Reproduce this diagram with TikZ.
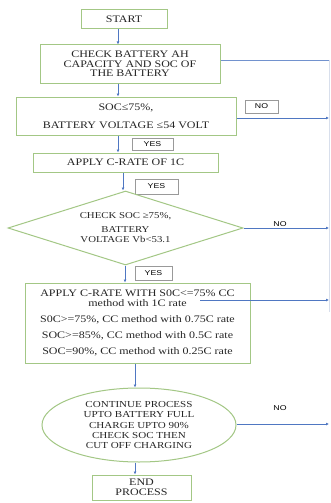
\documentclass[tikz,border=0pt]{standalone}
\usepackage{fontspec}
\setmainfont{Liberation Serif}[FakeStretch=1.2]
\newfontfamily\labfont{Liberation Sans}[FakeStretch=1.25]
\usetikzlibrary{shapes.geometric,arrows.meta}
\definecolor{boxgreen}{HTML}{A3C785}
\definecolor{arrblue}{HTML}{4F77C2}
\definecolor{faint}{HTML}{D8DFEC}
\tikzset{
  gbox/.style={draw=boxgreen,line width=1pt,rectangle,inner sep=0pt,align=center,text=black!85,font=\fontsize{10}{9.6}\selectfont},
  lbox/.style={draw=gray!80,line width=0.7pt,rectangle,inner sep=0pt,font=\labfont\fontsize{7}{7}\selectfont},
  ltext/.style={inner sep=0pt,font=\labfont\fontsize{7}{7}\selectfont},
  arr/.style={draw=arrblue,line width=0.8pt,-{Latex[length=3pt,width=3pt]}},
  ln/.style={draw=arrblue!80,line width=0.8pt},
}
\begin{document}
\begin{tikzpicture}[x=1pt,y=-1pt]
\useasboundingbox[fill=white] (0,0) rectangle (330,503);
% x positions of vertical connectors
\coordinate (c1) at (118,0);
\coordinate (c2) at (123,0);
\coordinate (c3) at (125,0);
\coordinate (c4) at (135,0);

\node[gbox,minimum width=86pt,minimum height=19pt] (start) at (124,19.5) {START};
\node[gbox,minimum width=180pt,minimum height=38pt] (chk) at (130,64)
  {CHECK BATTERY AH\\CAPACITY AND SOC OF\\THE BATTERY};
\node[gbox,minimum width=220pt,minimum height=38pt] (soc) at (126,116)
  {SOC≤75\%,\\[8pt]BATTERY VOLTAGE ≤54 VOLT};
\node[lbox,minimum width=33pt,minimum height=13pt] (no1) at (261.5,106.5) {NO};
\node[lbox,minimum width=41pt,minimum height=12pt] (yes1) at (152.5,144) {YES};
\node[gbox,minimum width=185pt,minimum height=19pt] (ap1) at (125.5,162.5) {APPLY C-RATE OF 1C};
\node[lbox,minimum width=43pt,minimum height=15pt] (yes2) at (156.5,186.5) {YES};
\node[draw=boxgreen,line width=1pt,diamond,aspect=3.2,inner sep=0pt,
      minimum width=235pt,minimum height=74pt,align=center,text=black!85,
      font=\fontsize{9}{10.5}\selectfont] (dia) at (125.5,228)
  {CHECK SOC ≥75\%,\\[3pt]BATTERY\\VOLTAGE Vb<53.1};
\node[ltext] (no2) at (280,224) {NO};
\node[lbox,minimum width=37pt,minimum height=14pt] (yes3) at (153.5,273) {YES};
\node[gbox,minimum width=225pt,minimum height=80pt] (ap2) at (137.5,323)
  {APPLY C-RATE WITH S0C<=75\% CC\\method with 1C rate\\[6.5pt]
   S0C>=75\%, CC method with 0.75C rate\\[6.5pt]
   SOC>=85\%, CC method with 0.5C rate\\[6.5pt]
   SOC=90\%, CC method with 0.25C rate};
\node[draw=boxgreen,line width=1pt,ellipse,inner sep=0pt,
      minimum width=194pt,minimum height=74pt,align=center,text=black!85,
      font=\fontsize{9.2}{10.4}\selectfont] (ell) at (139,425)
  {CONTINUE PROCESS\\UPTO BATTERY FULL\\CHARGE UPTO 90\%\\CHECK SOC THEN\\CUT OFF CHARGING};
\node[ltext] (no3) at (280,408) {NO};
\node[gbox,minimum width=99pt,minimum height=25pt] (endp) at (141.5,487.5) {END\\PROCESS};

% helper points on right
\coordinate (r1) at (329,60);
\coordinate (r2) at (329,118);
\coordinate (r3) at (329,228);
\coordinate (r4) at (329,300);
\coordinate (r5) at (329,424);
\coordinate (rb) at (329,312);
\coordinate (s4) at (200,300);

% faint right border line
\draw[faint,line width=0.8pt] (r1) -- (rb);

% vertical arrows
\draw[arr] (start.south -| c1) -- (chk.north -| c1);
\draw[arr] (chk.south -| c1) -- (soc.north -| c1);
\draw[arr] (soc.south -| c1) -- (ap1.north -| c1);
\draw[arr] (ap1.south -| c2) -- (dia.north -| c2);
\draw[arr] (dia.south -| c3) -- (ap2.north -| c3);
\draw[arr] (ap2.south -| c4) -- (ell.north -| c4);
\draw[arr] (ell.south -| c4) -- (endp.north -| c4);

% horizontal lines
\draw[ln] (chk.east |- r1) -- (r1);
\draw[arr] (soc.east |- r2) -- (r2);
\draw[arr] (dia.east) -- (r3);
\draw[arr] (s4) -- (r4);
\draw[arr] (ell.east |- r5) -- (r5);
\end{tikzpicture}
\end{document}
